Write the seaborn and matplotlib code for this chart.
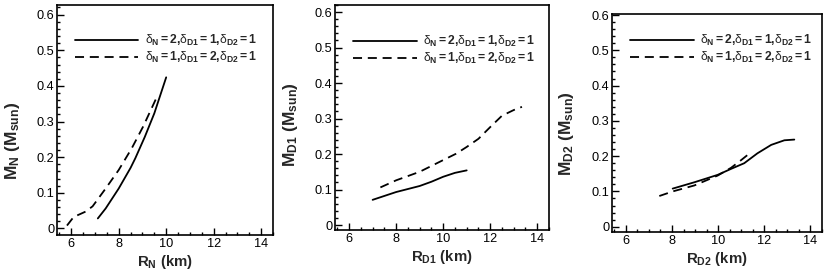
import numpy as np
import pandas as pd
import matplotlib
matplotlib.use('Agg')
import matplotlib.pyplot as plt
from matplotlib.lines import Line2D
from matplotlib.ticker import MultipleLocator
import seaborn as sns

# ---- data ----
# Panel 1: M_N vs R_N
rN_a = [7.12, 7.45, 8.0, 8.5, 8.7, 9.1, 9.5, 10.0]
mN_a = [0.028, 0.056, 0.112, 0.170, 0.197, 0.257, 0.323, 0.424]
rN_b = [5.82, 6.1, 6.6, 6.9, 7.45, 8.0, 8.55, 9.03, 9.58]
mN_b = [0.008, 0.032, 0.047, 0.062, 0.112, 0.164, 0.225, 0.286, 0.365]

# Panel 2: M_D1 vs R_D1
rD1_a = [7.0, 8.0, 9.0, 9.5, 10.0, 10.5, 11.0]
mD1_a = [0.071, 0.093, 0.110, 0.122, 0.136, 0.147, 0.154]
rD1_b = [7.33, 8.0, 9.0, 10.0, 10.55, 11.0, 11.5, 12.0, 12.5, 13.0, 13.35]
mD1_b = [0.106, 0.126, 0.150, 0.183, 0.201, 0.220, 0.243, 0.276, 0.308, 0.324, 0.333]

# Panel 3: M_D2 vs R_D2
rD2_a = [8.03, 8.97, 9.98, 10.56, 11.13, 11.7, 12.3, 12.87, 13.3]
mD2_a = [0.108, 0.126, 0.147, 0.164, 0.180, 0.208, 0.232, 0.245, 0.247]
rD2_b = [7.45, 8.03, 8.97, 9.98, 10.56, 11.0, 11.4]
mD2_b = [0.087, 0.100, 0.117, 0.145, 0.167, 0.189, 0.210]

legend_labels = [
    r'$\delta_{\mathbf{N}}\mathbf{{=}2{,}}\delta_{\mathbf{D1}}\mathbf{{=}1{,}}\delta_{\mathbf{D2}}\mathbf{{=}1}$',
    r'$\delta_{\mathbf{N}}\mathbf{{=}1{,}}\delta_{\mathbf{D1}}\mathbf{{=}2{,}}\delta_{\mathbf{D2}}\mathbf{{=}1}$',
]
xlabels = [r'R$_{\mathbf{N}}$ (km)', r'R$_{\mathbf{D1}}$ (km)', r'R$_{\mathbf{D2}}$ (km)']
ylabels = [r'M$_{\mathbf{N}}$ (M$_{\mathbf{sun}}$)', r'M$_{\mathbf{D1}}$ (M$_{\mathbf{sun}}$)',
           r'M$_{\mathbf{D2}}$ (M$_{\mathbf{sun}}$)']
yticklabels = ['0', '0.1', '0.2', '0.3', '0.4', '0.5', '0.6']

sns.set_theme(style='white')
plt.rcParams['font.family'] = ['Liberation Sans', 'DejaVu Sans']
plt.rcParams['mathtext.fontset'] = 'custom'
plt.rcParams['mathtext.rm'] = 'Liberation Sans'
plt.rcParams['mathtext.it'] = 'Liberation Sans'
plt.rcParams['mathtext.bf'] = 'Liberation Sans:bold'

W, H = 830, 280
fig = plt.figure(figsize=(W / 100, H / 100), dpi=100)

# axes boxes in pixels: (left, top, right, bottom)
boxes = [(57, 5, 273, 235), (335, 5, 549, 230), (612, 14, 822, 232)]
ylims = [(-0.0185, 0.627), (-0.014, 0.62), (-0.015, 0.603)]
leg_anchor = [(0.083, 0.878), (0.084, 0.870), (0.086, 0.913)]
ylab_pos = [(-0.206, 0.41), (-0.21, 0.467), (-0.219, 0.454)]

series = [
    (rN_a, mN_a, rN_b, mN_b),
    (rD1_a, mD1_a, rD1_b, mD1_b),
    (rD2_a, mD2_a, rD2_b, mD2_b),
]

dash = (0, (5, 3.2))
for i, (box, (ra, ma, rb, mb)) in enumerate(zip(boxes, series)):
    l, t, r, b = box
    ax = fig.add_axes([l / W, 1 - b / H, (r - l) / W, (b - t) / H])
    dfa = pd.DataFrame({'R': ra, 'M': ma})
    dfb = pd.DataFrame({'R': rb, 'M': mb})
    sns.lineplot(data=dfa, x='R', y='M', ax=ax, color='black', lw=1.3,
                 estimator=None, sort=False, legend=False)
    sns.lineplot(data=dfb, x='R', y='M', ax=ax, color='black', lw=1.3,
                 linestyle=dash, estimator=None, sort=False, legend=False)
    ax.set_xlim(5.4, 14.5)
    ax.set_ylim(*ylims[i])
    ax.set_xticks([6, 8, 10, 12, 14])
    ax.set_yticks([0, 0.1, 0.2, 0.3, 0.4, 0.5, 0.6])
    ax.set_yticklabels(yticklabels)
    ax.xaxis.set_minor_locator(MultipleLocator(0.5))
    ax.yaxis.set_minor_locator(MultipleLocator(0.02))
    ax.tick_params(which='both', direction='in', top=False, right=False,
                   left=True, bottom=True, colors='black', labelsize=9.2, width=1)
    ax.tick_params(which='major', length=5, pad=2)
    ax.tick_params(which='minor', length=2.5)
    for s in ax.spines.values():
        s.set_color('black')
        s.set_linewidth(1.2)
    ax.set_xlabel(xlabels[i], fontsize=10.8, fontweight='bold', labelpad=2)
    ax.set_ylabel(ylabels[i], fontsize=12.5, fontweight='bold')
    ax.yaxis.set_label_coords(*ylab_pos[i])
    ax.yaxis.label.set_va('center')
    handles = [Line2D([], [], color='black', lw=1.3),
               Line2D([], [], color='black', lw=1.3, linestyle=dash)]
    ax.legend(handles, legend_labels, loc='upper left', bbox_to_anchor=leg_anchor[i],
              frameon=False, fontsize=8.8, borderpad=0, borderaxespad=0,
              handlelength=5.2, handletextpad=0.55, labelspacing=0.15)

fig.savefig('out.png', dpi=100)
